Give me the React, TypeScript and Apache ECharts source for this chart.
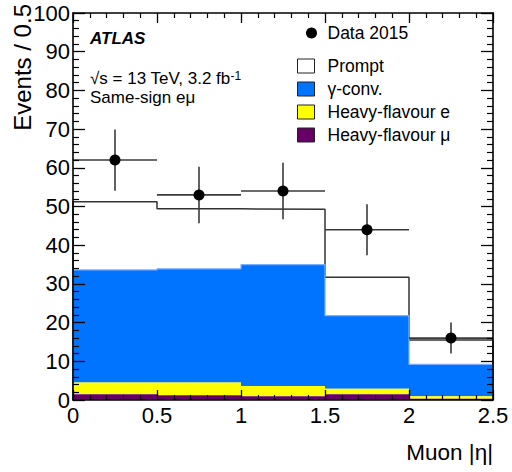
import React, { useEffect, useRef } from "react";
import * as echarts from "echarts";

const binEdges = [0, 0.5, 1, 1.5, 2, 2.5];
const binCenters = [0.25, 0.75, 1.25, 1.75, 2.25];
const hfMu = [1.5, 1.2, 1.0, 1.5, 0.3];
const hfE = [3.0, 3.3, 2.6, 1.4, 0.7];
const gConv = [29.1, 29.4, 31.4, 18.9, 8.2];
const prompt = [17.6, 15.5, 14.3, 9.9, 6.3];
const dataCounts = [62, 53, 54, 44, 16];
const dataErrors = [7.9, 7.3, 7.3, 6.6, 4.0];
const xRange = [0, 2.5];
const yRange = [0, 100];

const FONT = "'Liberation Sans', Arial, Helvetica, sans-serif";

function cumulate(layers: number[][]): number[][] {
  const out: number[][] = [];
  let base = layers[0].map(() => 0);
  for (const l of layers) {
    const top = l.map((v, i) => base[i] + v);
    out.push(top);
    base = top;
  }
  return out;
}

const [muTop, eTop, gTop, pTop] = cumulate([hfMu, hfE, gConv, prompt]);
const muBase = hfMu.map(() => 0);

function rects(lo: number[], hi: number[]) {
  return lo.map((l, i) => [binEdges[i], binEdges[i + 1], l, hi[i]]);
}

function stepPoints(tops: number[]) {
  const pts: number[][] = [[binEdges[0], 0]];
  tops.forEach((t, i) => pts.push([binEdges[i], t]));
  pts.push([binEdges[binEdges.length - 1], tops[tops.length - 1]]);
  pts.push([binEdges[binEdges.length - 1], 0]);
  return pts;
}

const rectRender = (params: any, api: any) => {
  const p0 = api.coord([api.value(0), api.value(3)]);
  const p1 = api.coord([api.value(1), api.value(2)]);
  return {
    type: "rect",
    shape: { x: p0[0], y: p0[1], width: p1[0] - p0[0], height: p1[1] - p0[1] },
    style: { fill: api.visual("color") },
  };
};

const errRender = (params: any, api: any) => {
  const c = api.value(0);
  const v = api.value(1);
  const e = api.value(2);
  const h = api.value(3);
  const a = api.coord([c - h, v]);
  const b = api.coord([c + h, v]);
  const top = api.coord([c, v + e]);
  const bot = api.coord([c, v - e]);
  const style = { stroke: "#3a3a3a", lineWidth: 1.6 };
  return {
    type: "group",
    children: [
      { type: "line", shape: { x1: a[0], y1: a[1], x2: b[0], y2: b[1] }, style },
      { type: "line", shape: { x1: top[0], y1: top[1], x2: bot[0], y2: bot[1] }, style },
    ],
  };
};

export default function App() {
  const ref = useRef<HTMLDivElement>(null);
  useEffect(() => {
    if (!ref.current) return;
    const chart = echarts.init(ref.current, null, { renderer: "svg" });
    const axisBase = {
      type: "value",
      z: 10,
      axisLine: { show: true, onZero: false, lineStyle: { color: "#000", width: 1.6 } },
      splitLine: { show: false },
    };
    chart.setOption({
      animation: false,
      backgroundColor: "#fff",
      grid: { left: 73, right: 19, top: 13, bottom: 72 },
      xAxis: [
        {
          ...axisBase,
          min: xRange[0],
          max: xRange[1],
          interval: 0.5,
          position: "bottom",
          axisTick: { show: true, inside: true, length: 10, lineStyle: { color: "#000", width: 1.3 } },
          minorTick: { show: true, splitNumber: 5, length: 5, lineStyle: { color: "#000", width: 1.2 } },
          axisLabel: { fontSize: 22, fontFamily: FONT, color: "#000", margin: 4 },
        },
        {
          ...axisBase,
          min: xRange[0],
          max: xRange[1],
          interval: 0.5,
          position: "top",
          axisTick: { show: true, inside: true, length: 10, lineStyle: { color: "#000", width: 1.3 } },
          minorTick: { show: true, splitNumber: 5, length: 5, lineStyle: { color: "#000", width: 1.2 } },
          axisLabel: { show: false },
        },
      ],
      yAxis: [
        {
          ...axisBase,
          min: yRange[0],
          max: yRange[1],
          interval: 10,
          position: "left",
          axisTick: { show: true, inside: true, length: 12, lineStyle: { color: "#000", width: 1.3 } },
          minorTick: { show: true, splitNumber: 5, length: 6, lineStyle: { color: "#000", width: 1.2 } },
          axisLabel: { fontSize: 22, fontFamily: FONT, color: "#000", margin: 3 },
        },
        {
          ...axisBase,
          min: yRange[0],
          max: yRange[1],
          interval: 10,
          position: "right",
          axisTick: { show: true, inside: true, length: 12, lineStyle: { color: "#000", width: 1.3 } },
          minorTick: { show: true, splitNumber: 5, length: 6, lineStyle: { color: "#000", width: 1.2 } },
          axisLabel: { show: false },
        },
      ],
      legend: [
        {
          data: [{ name: "Data 2015", icon: "circle", itemStyle: { color: "#000", opacity: 1 } }],
          left: 306,
          top: 24,
          padding: 0,
          itemWidth: 22,
          itemHeight: 11,
          selectedMode: false,
          textStyle: { fontSize: 17.5, fontFamily: FONT, color: "#000" },
        },
        {
          data: [
            { name: "Prompt", icon: "rect", itemStyle: { color: "#ffffff", borderColor: "#222", borderWidth: 1 } },
            { name: "γ-conv.", icon: "rect", itemStyle: { color: "#0073ff", borderColor: "#222", borderWidth: 1 } },
            { name: "Heavy-flavour e", icon: "rect", itemStyle: { color: "#ffff00", borderColor: "#222", borderWidth: 1 } },
            { name: "Heavy-flavour μ", icon: "rect", itemStyle: { color: "#660066", borderColor: "#222", borderWidth: 1 } },
          ],
          orient: "vertical",
          left: 297,
          top: 57,
          padding: 0,
          itemWidth: 17,
          itemHeight: 14,
          itemGap: 5,
          selectedMode: false,
          textStyle: { fontSize: 17.5, lineHeight: 17, fontFamily: FONT, color: "#000", padding: [0, 0, 0, 8] },
        },
      ],
      graphic: [
        {
          type: "text",
          left: 90,
          top: 30,
          style: { text: "ATLAS", font: `italic bold 17px ${FONT}`, fill: "#000" },
        },
        {
          type: "text",
          left: 90,
          top: 70,
          style: {
            text: "{a|√s = 13 TeV, 3.2 fb}{s|-1}",
            rich: {
              a: { fontSize: 17, fontFamily: FONT, fill: "#000", color: "#000", verticalAlign: "bottom", lineHeight: 17 },
              s: { fontSize: 12, fontFamily: FONT, fill: "#000", color: "#000", verticalAlign: "top", lineHeight: 12, padding: [0, 0, 6, 0] },
            },
          },
        },
        {
          type: "text",
          left: 90,
          top: 89,
          style: { text: "Same-sign eμ", font: `17px ${FONT}`, fill: "#000" },
        },
        {
          type: "text",
          x: 22,
          y: 4,
          rotation: Math.PI / 2,
          style: {
            text: "Events / 0.5",
            font: `24px ${FONT}`,
            fill: "#000",
            textAlign: "right",
            textVerticalAlign: "middle",
          },
        },
        {
          type: "text",
          x: 493,
          y: 452,
          style: {
            text: "Muon |η|",
            font: `22.5px ${FONT}`,
            fill: "#000",
            textAlign: "right",
            textVerticalAlign: "middle",
          },
        },
      ],
      series: [
        {
          name: "Prompt",
          type: "custom",
          z: 1,
          renderItem: rectRender,
          itemStyle: { color: "#ffffff" },
          encode: { x: [0, 1], y: [2, 3] },
          data: rects(gTop, pTop),
        },
        {
          name: "Prompt outline",
          type: "line",
          z: 2,
          step: "end",
          symbol: "none",
          lineStyle: { color: "#333", width: 1.5 },
          data: stepPoints(pTop),
        },
        {
          name: "γ-conv.",
          type: "custom",
          z: 3,
          renderItem: rectRender,
          itemStyle: { color: "#0073ff" },
          encode: { x: [0, 1], y: [2, 3] },
          data: rects(eTop, gTop),
        },
        {
          name: "γ-conv. outline",
          type: "line",
          z: 3,
          step: "end",
          symbol: "none",
          lineStyle: { color: "#7ab0ff", width: 1.2 },
          data: stepPoints(gTop),
        },
        {
          name: "Heavy-flavour e",
          type: "custom",
          z: 4,
          renderItem: rectRender,
          itemStyle: { color: "#ffff00" },
          encode: { x: [0, 1], y: [2, 3] },
          data: rects(muTop, eTop),
        },
        {
          name: "Heavy-flavour μ",
          type: "custom",
          z: 4,
          renderItem: rectRender,
          itemStyle: { color: "#660066" },
          encode: { x: [0, 1], y: [2, 3] },
          data: rects(muBase, muTop),
        },
        {
          name: "Data errors",
          type: "custom",
          z: 5,
          renderItem: errRender,
          encode: { x: 0, y: 1 },
          data: binCenters.map((c, i) => [c, dataCounts[i], dataErrors[i], (binEdges[i + 1] - binEdges[i]) / 2]),
        },
        {
          name: "Data 2015",
          type: "scatter",
          z: 6,
          symbol: "circle",
          symbolSize: 11,
          itemStyle: { color: "#000", opacity: 1 },
          data: binCenters.map((c, i) => [c, dataCounts[i]]),
        },
      ],
    });
    return () => chart.dispose();
  }, []);
  return (
    <div
      ref={ref}
      style={{ position: "fixed", left: 0, top: 0, width: 512, height: 472, background: "#fff" }}
    />
  );
}
